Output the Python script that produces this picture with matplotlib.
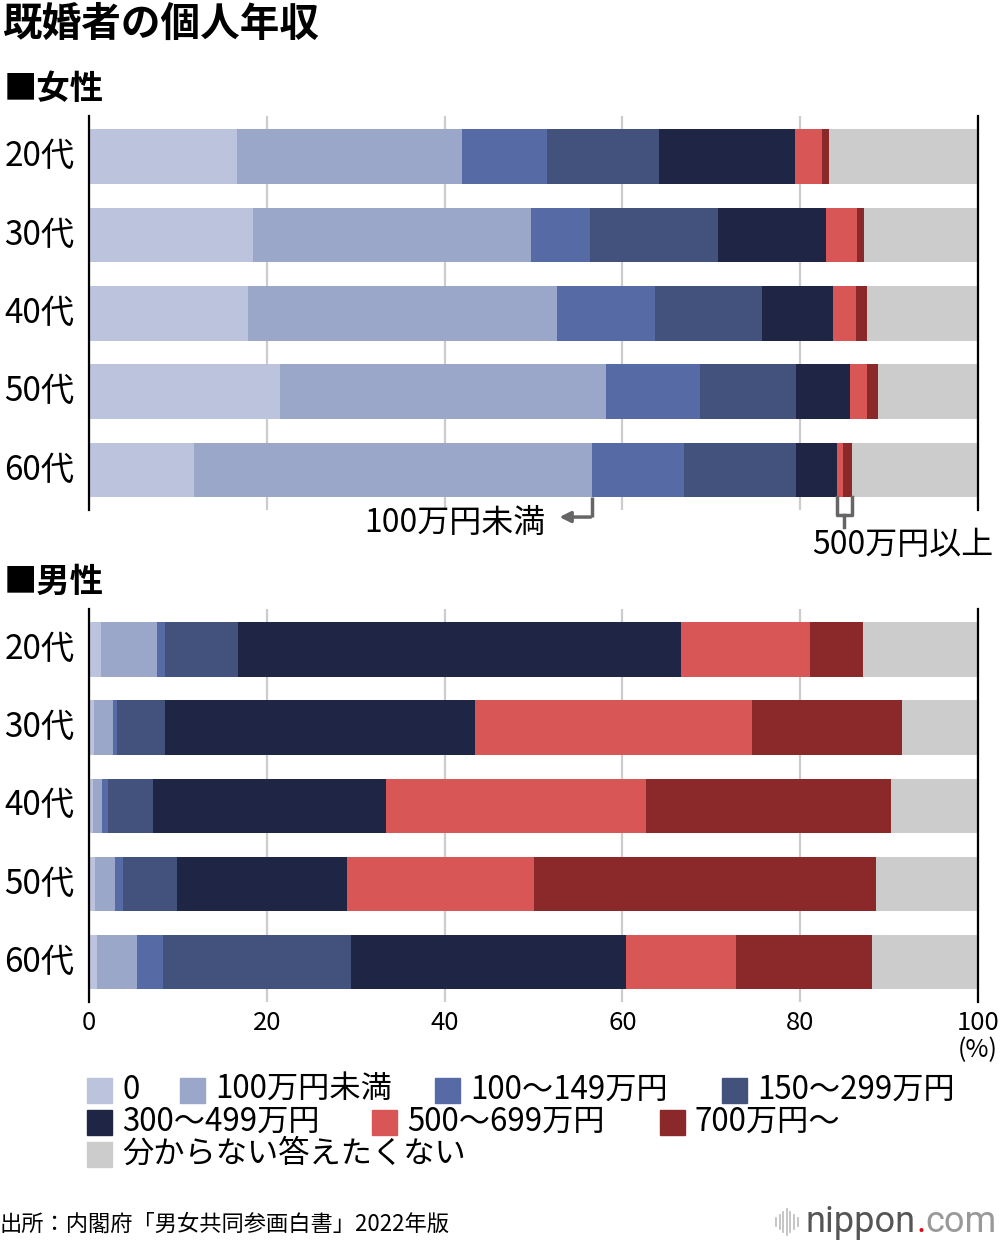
import numpy as np
import matplotlib.pyplot as plt
from matplotlib.patches import Rectangle
from matplotlib.lines import Line2D

plt.rcParams['font.family'] = ['Noto Sans CJK JP', 'DejaVu Sans']

# データ（％）
ages = ['20代', '30代', '40代', '50代', '60代']
categories = ['0', '100万円未満', '100〜149万円', '150〜299万円',
              '300〜499万円', '500〜699万円', '700万円〜', '分からない答えたくない']
colors = ['#bcc3dc', '#9aa7c9', '#566ba5', '#43527d',
          '#1f2645', '#d95656', '#8b2829', '#cccccc']

women = np.array([
    [16.6, 25.4, 9.5, 12.6, 15.3, 3.1, 0.7, 16.8],
    [18.4, 31.3, 6.7, 14.3, 12.2, 3.5, 0.8, 12.8],
    [17.9, 34.7, 11.1, 12.0, 8.0, 2.6, 1.2, 12.5],
    [21.5, 36.7, 10.5, 10.8, 6.1, 1.9, 1.2, 11.3],
    [11.8, 44.8, 10.3, 12.6, 4.6, 0.7, 1.0, 14.2],
])
men = np.array([
    [1.3, 6.4, 0.9, 8.2, 49.8, 14.5, 6.0, 12.9],
    [0.6, 2.1, 0.4, 5.5, 34.8, 31.2, 16.9, 8.5],
    [0.5, 1.0, 0.6, 5.1, 26.2, 29.3, 27.5, 9.8],
    [0.7, 2.2, 0.9, 6.1, 19.1, 21.0, 38.5, 11.5],
    [0.9, 4.5, 2.9, 21.2, 30.9, 12.4, 15.3, 11.9],
])
xticks = [0, 20, 40, 60, 80, 100]

W, H = 1000, 1244


def fx(px):
    return px / W


def fy(py):
    return 1 - py / H


fig = plt.figure(figsize=(W / 100, H / 100), dpi=100)


def draw_panel(top_px, bottom_px, data, show_ticks):
    ax = fig.add_axes([fx(89), fy(bottom_px), fx(978) - fx(89), (bottom_px - top_px) / H])
    y = np.arange(len(ages))
    left = np.zeros(len(ages))
    for i, c in enumerate(categories):
        ax.barh(y, data[:, i], left=left, height=0.7, color=colors[i], linewidth=0, zorder=2)
        left += data[:, i]
    ax.set_xlim(0, 100)
    ax.set_ylim(4.51, -0.52)
    ax.set_axisbelow(True)
    ax.xaxis.grid(True, color='#cccccc', lw=1.6, zorder=0)
    ax.set_xticks(xticks)
    ax.set_yticks([])
    ax.tick_params(axis='x', length=0, pad=6, labelsize=18.5)
    if not show_ticks:
        ax.set_xticklabels([])
    for s in ['top', 'bottom']:
        ax.spines[s].set_visible(False)
    for s in ['left', 'right']:
        ax.spines[s].set_linewidth(1.6)
        ax.spines[s].set_color('black')
    for i, a in enumerate(ages):
        ax.text(-0.095, i, a, transform=ax.get_yaxis_transform(), fontsize=24,
                ha='left', va='center')
    return ax


fig.text(fx(2), fy(24), '既婚者の個人年収', fontsize=28.5, fontweight='bold', va='center', ha='left')
fig.text(fx(4), fy(89), '■女性', fontsize=24, fontweight='bold', va='center', ha='left')
fig.text(fx(4), fy(582), '■男性', fontsize=24, fontweight='bold', va='center', ha='left')

axw = draw_panel(116, 510, women, False)
axm = draw_panel(609, 1002, men, True)
fig.text(fx(978), fy(1050), '(%)', fontsize=18, ha='center', va='center')

# 注記（女性60代）
cum = np.cumsum(women[4])
gray = '#666666'
xb = cum[1]
axw.plot([xb, xb], [4.35, 4.6], color=gray, lw=2.5, clip_on=False, solid_capstyle='butt')
axw.annotate('', xy=(52.6, 4.6), xytext=(xb + 0.15, 4.6),
             arrowprops=dict(arrowstyle='-|>', color=gray, lw=2.5, mutation_scale=16),
             annotation_clip=False)
axw.text(51.3, 4.68, '100万円未満', fontsize=23, ha='right', va='center', clip_on=False)

x0, x1 = cum[4], cum[6]
axw.plot([x0, x0, x1, x1], [4.35, 4.575, 4.575, 4.35], color=gray, lw=2.5, clip_on=False)
axw.plot([(x0 + x1) / 2] * 2, [4.575, 4.73], color=gray, lw=2.5, clip_on=False)
fig.text(fx(993), fy(545), '500万円以上', fontsize=23, ha='right', va='center')

# 凡例
legend_pos = [(87, 1090), (180, 1090), (435, 1090), (722, 1090),
              (87, 1122), (372, 1122), (660, 1122), (87, 1154)]
for (px, py), c, lab in zip(legend_pos, colors, categories):
    fig.add_artist(Rectangle((fx(px), fy(py + 12.5)), 25 / W, 25 / H, color=c,
                             transform=fig.transFigure))
    fig.text(fx(px + 35), fy(py), lab, fontsize=22.5, ha='left', va='center')

# 出所
fig.text(fx(0), fy(1224), '出所：内閣府「男女共同参画白書」2022年版', fontsize=16,
         ha='left', va='center')

# ロゴ
for k, h in enumerate([8, 14, 20, 26, 20, 14, 8]):
    xk = 776 + k * 3.6
    fig.add_artist(Line2D([fx(xk), fx(xk)], [fy(1222 + h / 2), fy(1222 - h / 2)],
                          color='#bbbbbb', lw=1.2, transform=fig.transFigure))
r = fig.canvas.get_renderer()
t1 = fig.text(fx(806), fy(1222), 'nippon', fontsize=26, color='#555555',
              family='Roboto', ha='left', va='center')
bb = t1.get_window_extent(r)
t2 = fig.text(bb.x1 / W, fy(1222), '.', fontsize=26, color='#e60012',
              family='Roboto', ha='left', va='center')
bb = t2.get_window_extent(r)
fig.text(bb.x1 / W, fy(1222), 'com', fontsize=26, color='#999999',
         family='Roboto', ha='left', va='center')

fig.savefig('out.png', dpi=100)
